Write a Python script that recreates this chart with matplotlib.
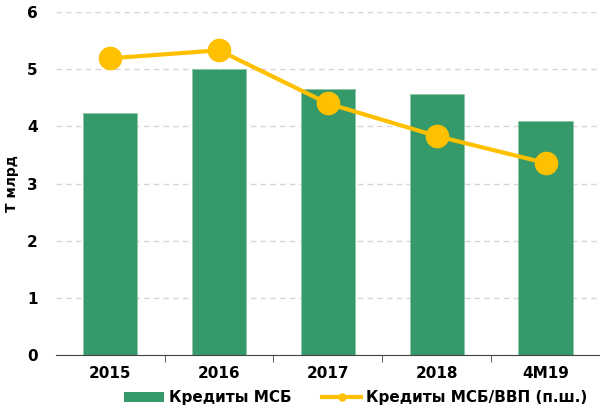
import matplotlib.pyplot as plt
from matplotlib.lines import Line2D
from matplotlib.patches import Patch

categories = ['2015', '2016', '2017', '2018', '4M19']
loans = [4.24, 5.0, 4.66, 4.56, 4.09]
loans_gdp = [5.19, 5.33, 4.40, 3.83, 3.36]

green = '#35996A'
yellow = '#FFC000'

plt.rcParams['font.family'] = ['DejaVu Sans']

fig = plt.figure(figsize=(6, 4.13), dpi=100)
ax = fig.add_axes([0.093, 0.14, 0.907, 0.831])

x = list(range(len(categories)))
ax.bar(x, loans, width=0.5, color=green, edgecolor='#8CC8A8', linewidth=0.6, zorder=2)
ax.set_xlim(-0.5, len(categories) - 0.5)
ax.set_ylim(0, 6)
ax.set_yticks(range(7))
ax.set_yticklabels([str(v) for v in range(7)], fontsize=11, fontweight='bold')
ax.set_xticks(x)
ax.set_xticklabels(categories, fontsize=11, fontweight='bold')
ax.tick_params(axis='x', length=0, pad=8)
ax.set_xticks([i + 0.5 for i in x[:-1]], minor=True)
ax.tick_params(axis='x', which='minor', length=5, color='#444444', direction='out')
ax.tick_params(axis='y', length=0, pad=13)
ax.grid(axis='y', linestyle=(0, (4, 3)), color='#D6D6D6', linewidth=1, zorder=0)
for s in ['top', 'right', 'left']:
    ax.spines[s].set_visible(False)
ax.spines['bottom'].set_color('#444444')
ax.set_ylabel('Т млрд', fontsize=10, fontweight='bold', labelpad=6)

ax2 = ax.twinx()
ax2.plot(x, loans_gdp, color=yellow, linewidth=3, marker='o', markersize=16, zorder=3)
ax2.set_ylim(0, 6)
ax2.axis('off')

handles = [Patch(facecolor=green, edgecolor='none'),
           Line2D([0], [0], color=yellow, linewidth=3, marker='o', markersize=5)]
labels = ['Кредиты МСБ', 'Кредиты МСБ/ВВП (п.ш.)']
fig.legend(handles, labels, loc='lower center', bbox_to_anchor=(0.593, -0.015), ncol=2,
           frameon=False, prop={'size': 11, 'weight': 'bold'}, handlelength=2.6,
           handleheight=0.7, columnspacing=2.0, handletextpad=0.3)

fig.savefig('out.png', dpi=100)
